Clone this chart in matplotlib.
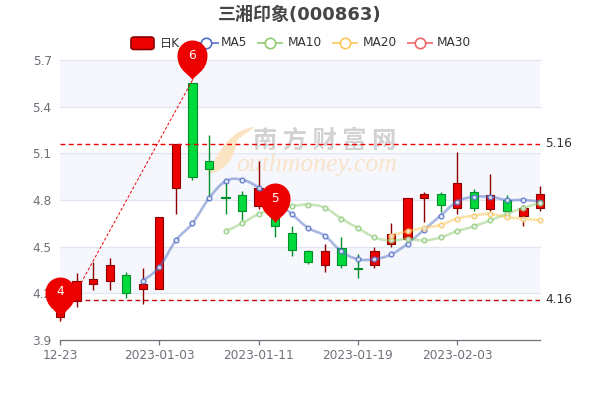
import matplotlib
matplotlib.use("Agg")
import matplotlib.pyplot as plt
from matplotlib.path import Path
from matplotlib.patches import PathPatch, FancyBboxPatch
from matplotlib.lines import Line2D

W, H = 600, 400
title = "三湘印象(000863)"
tick_pos = [0, 6, 12, 18, 24]
tick_labels = ["12-23", "2023-01-03", "2023-01-11", "2023-01-19", "2023-02-03"]
y_ticks = [3.9, 4.2, 4.5, 4.8, 5.1, 5.4, 5.7]

opens = [4.05, 4.15, 4.26, 4.28, 4.32, 4.23, 4.23, 4.88, 5.55, 5.05, 4.82, 4.83, 4.76, 4.75, 4.59,
         4.47, 4.38, 4.49, 4.36, 4.38, 4.52, 4.55, 4.81, 4.84, 4.75, 4.85, 4.74, 4.80, 4.70, 4.75]
closes = [4.17, 4.28, 4.29, 4.38, 4.20, 4.26, 4.69, 5.16, 4.95, 5.00, 4.81, 4.73, 4.88, 4.63, 4.48,
          4.40, 4.47, 4.38, 4.355, 4.47, 4.58, 4.81, 4.84, 4.77, 4.91, 4.75, 4.83, 4.73, 4.75, 4.84]
lows = [4.02, 4.11, 4.22, 4.22, 4.17, 4.13, 4.23, 4.71, 4.93, 4.82, 4.71, 4.67, 4.74, 4.56, 4.44,
        4.39, 4.34, 4.36, 4.30, 4.36, 4.50, 4.54, 4.66, 4.72, 4.71, 4.73, 4.73, 4.72, 4.63, 4.73]
highs = [4.20, 4.33, 4.40, 4.43, 4.34, 4.36, 4.69, 5.16, 5.55, 5.22, 4.93, 4.86, 5.05, 4.78, 4.63,
         4.48, 4.52, 4.56, 4.45, 4.50, 4.65, 4.81, 4.85, 4.85, 5.11, 4.87, 4.97, 4.83, 4.77, 4.89]

ma5 = [None]*5 + [4.28, 4.37, 4.54, 4.65, 4.81, 4.92, 4.93, 4.88, 4.80, 4.71, 4.62, 4.57, 4.47, 4.42,
                  4.42, 4.45, 4.52, 4.61, 4.70, 4.79, 4.82, 4.82, 4.80, 4.80, 4.79]
ma10 = [None]*10 + [4.60, 4.65, 4.71, 4.74, 4.76, 4.77, 4.75, 4.68, 4.62, 4.56, 4.54, 4.55, 4.54, 4.56,
                    4.60, 4.63, 4.67, 4.71, 4.75, 4.78]
ma20 = [None]*20 + [4.57, 4.60, 4.62, 4.64, 4.68, 4.70, 4.71, 4.69, 4.68, 4.67]

mark_high, mark_low = 5.16, 4.16
pin_x = [0, 13, 8]
pin_y = [4.05, 4.65, 5.57]
pin_text = ["4", "5", "6"]
trend_x = [0, 8]
trend_y = [4.02, 5.57]

UP, UP_E, DN, DN_E = "#ec0000", "#8A0000", "#00da3c", "#008F28"
MA_C = {"MA5": "#5470c6", "MA10": "#91cc75", "MA20": "#fac858", "MA30": "#ee6666"}
plt.rcParams["font.family"] = ["DejaVu Sans", "Noto Sans CJK SC"]

fig = plt.figure(figsize=(6, 4), dpi=100)
fig.patch.set_facecolor("white")
ax = fig.add_axes([60/W, 1-340/H, 480/W, 280/H])
ax.set_zorder(5)
ax.set_xlim(0, 29)
ax.set_ylim(3.9, 5.7)
ax.set_facecolor("white")
for s in ["top", "left", "right"]:
    ax.spines[s].set_visible(False)
ax.spines["bottom"].set_color("#6E7079")
ax.spines["bottom"].set_linewidth(0.9)
ax.set_xticks(tick_pos, tick_labels, color="#6E7079", fontsize=8.7)
ax.set_yticks(y_ticks, [f"{v:.1f}" for v in y_ticks], color="#6E7079", fontsize=8.7)
ax.tick_params(axis="x", length=3.6, color="#6E7079", width=0.9, pad=3)
ax.tick_params(axis="y", length=0, pad=6)
ax.set_axisbelow(True)

for a, b in [(y_ticks[1], y_ticks[2]), (y_ticks[3], y_ticks[4]), (y_ticks[5], y_ticks[6])]:
    ax.axhspan(a, b, color="#f5f7fc", lw=0, zorder=0)
for v in y_ticks[1:]:
    ax.axhline(v, color="#E0E6F1", lw=0.9, zorder=0.5, clip_on=False)

# watermark
def px(x, y):
    return (x/W, 1-y/H)
tf = fig.transFigure
swoosh = [(255, 127), (233, 129), (220, 147), (207, 175),
          (227, 170), (235, 157), (237, 140), (255, 127)]
cc = [Path.MOVETO, Path.CURVE4, Path.CURVE4, Path.CURVE4, Path.CURVE4, Path.CURVE4, Path.CURVE4, Path.LINETO]
ax.add_patch(PathPatch(Path([px(*p) for p in swoosh], cc), transform=tf, fc="#fbe3c4",
                       ec="none", zorder=1, clip_on=False))
ax.text(325/W, 1-141/H, "南 方 财 富 网", transform=tf, ha="center", va="center", fontsize=17.5,
        weight="bold", color="#d2d2d2", family=["Noto Sans CJK SC"], zorder=1.1, clip_on=False)
ax.text(317/W, 1-165/H, "outhmoney.com", transform=tf, ha="center", va="center", fontsize=18.5,
        style="italic", color="#f9e3c8", family=["Liberation Serif"], zorder=1.1, clip_on=False)

# candlesticks
xs = list(range(len(opens)))
for i in xs:
    up = closes[i] >= opens[i]
    ax.vlines(i, lows[i], highs[i], color=UP_E if up else DN_E, lw=1, zorder=3, clip_on=False)
    ax.bar(i, abs(closes[i]-opens[i]), bottom=min(opens[i], closes[i]), width=0.5,
           color=UP if up else DN, edgecolor=UP_E if up else DN_E, lw=0.8, zorder=3.2, clip_on=False)

# moving averages
def smooth_path(x, y, k=0.2):
    v, c = [(x[0], y[0])], [Path.MOVETO]
    n = len(x)
    for i in range(n-1):
        p0 = max(i-1, 0); p3 = min(i+2, n-1)
        c1 = (x[i] + (x[i+1]-x[p0])*k, y[i] + (y[i+1]-y[p0])*k)
        c2 = (x[i+1] - (x[p3]-x[i])*k, y[i+1] - (y[p3]-y[i])*k)
        v += [c1, c2, (x[i+1], y[i+1])]
        c += [Path.CURVE4]*3
    return Path(v, c)

for name, vals in [("MA5", ma5), ("MA10", ma10), ("MA20", ma20)]:
    x = [i for i, v in enumerate(vals) if v is not None]
    y = [v for v in vals if v is not None]
    col = MA_C[name]
    ax.add_patch(PathPatch(smooth_path(x, y), fc="none", ec=col, lw=1.9, alpha=0.5, zorder=4, clip_on=False))
    ax.plot(x, y, ls="none", marker="o", ms=3.4, mfc="#eef1fa", mec=col, mew=1.0, alpha=0.85, zorder=4.2, clip_on=False)

# mark lines
ax.axhline(mark_high, color="#ee0000", ls=(0, (3.5, 2.5)), lw=1, zorder=3.5)
ax.axhline(mark_low, color="#c80000", ls=(0, (3.5, 2.5)), lw=1, zorder=3.5)
ax.plot(trend_x, trend_y, color="#ee0000", ls=(0, (3, 2)), lw=0.7, zorder=3.6)
ax.annotate(f"{mark_high:.2f}", (1, mark_high), xycoords=("axes fraction", "data"), xytext=(4, 0),
            textcoords="offset points", va="center", fontsize=8.7, color="#333333")
ax.annotate(f"{mark_low:.2f}", (1, mark_low), xycoords=("axes fraction", "data"), xytext=(4, 0),
            textcoords="offset points", va="center", fontsize=8.7, color="#333333")

# pins: tip at origin, y up
R = 15.0
c0 = 25.0
K = 0.5523
pin_v = [(0, 0),
         (-2, 6), (-R, 9), (-R, c0),
         (-R, c0+K*R), (-K*R, c0+R), (0, c0+R),
         (K*R, c0+R), (R, c0+K*R), (R, c0),
         (R, 9), (2, 6), (0, 0)]
pin_c = [Path.MOVETO] + [Path.CURVE4]*12
pin_path = Path(pin_v, pin_c)
ms_pt = 2*(c0+R)*72/100
ax.plot(pin_x, pin_y, ls="none", marker=pin_path, ms=ms_pt, mfc="#ec0000", mec="none", zorder=6, clip_on=False)
for x0, y0, t in zip(pin_x, pin_y, pin_text):
    ax.annotate(t, (x0, y0), xytext=(0, c0*0.72), textcoords="offset points", ha="center", va="center",
                color="white", fontsize=8.7, zorder=7, annotation_clip=False)

# title and legend
fig.text(300/W, 1-14.5/H, title, ha="center", va="center", fontsize=13, weight="bold", color="#464646")
l0, t0 = px(131, 49.5)
fig.add_artist(FancyBboxPatch((l0, t0), 23/W, 12.5/H, boxstyle="round,pad=0,rounding_size=0.006",
                              fc=UP, ec=UP_E, lw=1.2, transform=tf, zorder=2))
fig.text(160/W, 1-43/H, "日K", va="center", fontsize=8.7, color="#333333", zorder=2)
for name, lx, tx in [("MA5", 206, 221), ("MA10", 270, 288), ("MA20", 345, 363), ("MA30", 420, 437)]:
    col = MA_C[name]
    fig.add_artist(Line2D([(lx-12)/W, (lx+12)/W], [1-43/H]*2, color=col, lw=1.4, alpha=0.85, transform=tf, zorder=2))
    fig.add_artist(Line2D([lx/W], [1-43/H], marker="o", ms=7.5, mfc="white", mec=col, mew=1.2, transform=tf, zorder=2.1))
    fig.text(tx/W, 1-43/H, name, va="center", fontsize=8.7, color="#333333", zorder=2)

fig.savefig("out.png", dpi=100)
